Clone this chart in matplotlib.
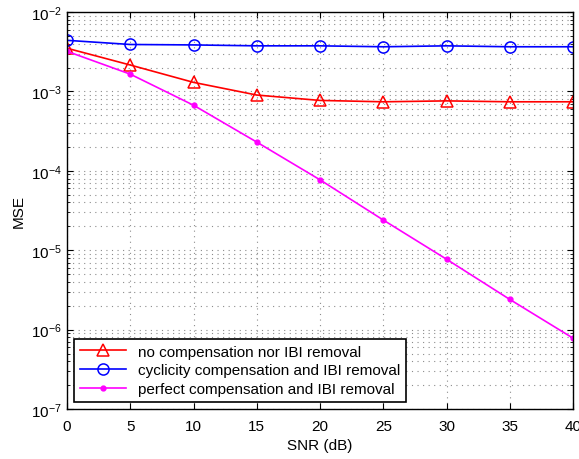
import matplotlib
matplotlib.use('Agg')
import matplotlib.pyplot as plt
from matplotlib.ticker import LogLocator, NullFormatter

plt.rcParams['font.family'] = ['Liberation Sans', 'DejaVu Sans']

snr = [0, 5, 10, 15, 20, 25, 30, 35, 40]
mse_no_comp = [3.5e-3, 2.15e-3, 1.3e-3, 9.0e-4, 7.7e-4, 7.4e-4, 7.6e-4, 7.4e-4, 7.4e-4]
mse_cyclic = [4.4e-3, 3.9e-3, 3.85e-3, 3.75e-3, 3.75e-3, 3.65e-3, 3.75e-3, 3.65e-3, 3.65e-3]
mse_perfect = [3.2e-3, 1.65e-3, 6.7e-4, 2.3e-4, 7.7e-5, 2.4e-5, 7.7e-6, 2.4e-6, 7.8e-7]

labels = ['no compensation nor IBI removal',
          'cyclicity compensation and IBI removal',
          'perfect compensation and IBI removal']

fig = plt.figure(figsize=(5.79, 4.6), dpi=100)
ax = fig.add_axes([0.1157, 0.1087, 0.874, 0.863])

ax.semilogy(snr, mse_no_comp, color='red', marker='^', markersize=9,
            markerfacecolor='none', markeredgewidth=1.1, linewidth=1.2, label=labels[0])
ax.semilogy(snr, mse_cyclic, color='blue', marker='o', markersize=8,
            markerfacecolor='none', markeredgewidth=1.1, linewidth=1.2, label=labels[1])
ax.semilogy(snr, mse_perfect, color='magenta', marker='.', markersize=7,
            linewidth=1.2, label=labels[2])

ax.set_xlim(0, 40)
ax.set_ylim(1e-7, 1e-2)
ax.set_xticks(snr)
ax.yaxis.set_major_locator(LogLocator(base=10, numticks=10))
ax.yaxis.set_minor_locator(LogLocator(base=10, subs=range(2, 10), numticks=100))
ax.yaxis.set_minor_formatter(NullFormatter())

dots = (0, (1, 4))
ax.grid(True, which='major', linestyle=dots, color='#8c8c8c', linewidth=0.8)
ax.grid(True, which='minor', axis='y', linestyle=dots, color='#8c8c8c', linewidth=0.8)
ax.tick_params(which='both', direction='in', top=True, right=True, labelsize=11)
ax.tick_params(which='major', length=4)
ax.tick_params(which='minor', length=2)
ax.tick_params(axis='x', pad=7)
for s in ax.spines.values():
    s.set_linewidth(1.0)

ax.set_xlabel('SNR (dB)', fontsize=11, labelpad=4)
ax.set_ylabel('MSE', fontsize=11)

leg = ax.legend(loc='lower left', fontsize=11, fancybox=False, framealpha=1,
                edgecolor='black', borderaxespad=0.45, handlelength=3.0,
                labelspacing=0.3, borderpad=0.4)
leg.get_frame().set_linewidth(1.2)

fig.savefig('out.png', dpi=100)
